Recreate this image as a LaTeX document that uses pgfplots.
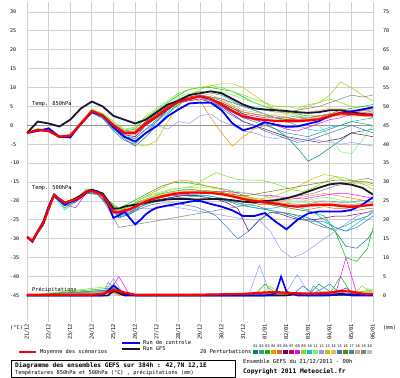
\documentclass[border=0pt]{standalone}
\usepackage{fontspec}
\setmainfont{DejaVu Sans Mono}
\usepackage{pgfplots}
\usepackage{pgfplotstable}
\pgfplotsset{compat=1.18}
\newcommand\fs[1]{\fontsize{#1}{#1}\selectfont}
\definecolor{c01}{RGB}{0,128,128}
\definecolor{c02}{RGB}{60,160,120}
\definecolor{c03}{RGB}{0,190,0}
\definecolor{c04}{RGB}{255,140,0}
\definecolor{c05}{RGB}{230,100,30}
\definecolor{c06}{RGB}{110,0,110}
\definecolor{c07}{RGB}{200,0,100}
\definecolor{c08}{RGB}{255,0,255}
\definecolor{c09}{RGB}{120,230,0}
\definecolor{c10}{RGB}{0,200,200}
\definecolor{c11}{RGB}{120,240,120}
\definecolor{c12}{RGB}{150,150,255}
\definecolor{c13}{RGB}{180,200,0}
\definecolor{c14}{RGB}{240,180,100}
\definecolor{c15}{RGB}{50,120,200}
\definecolor{c16}{RGB}{120,120,0}
\definecolor{c17}{RGB}{40,150,150}
\definecolor{c18}{RGB}{200,170,120}
\definecolor{c19}{RGB}{128,128,128}
\definecolor{c20}{RGB}{190,190,190}
\definecolor{gridc}{RGB}{208,208,208}
\definecolor{gfsc}{RGB}{30,20,40}

% 850 hPa temperatures, one row per series
\pgfplotstableread{
name 0 0.5 1 1.5 2 2.5 3 3.5 4 4.5 5 5.5 6 6.5 7 7.5 8 8.5 9 9.5 10 10.5 11 11.5 12 12.5 13 13.5 14 14.5 15 15.5 16
p01 -2 -1 -1.3 -3.2 -3 0.2 3.5 2 -1 -3.5 -5.5 -3 0 3 5.5 7 8 7 6 4.5 3 1.5 0.5 -1 -3 -6 -9.5 -8 -6 -4 -2 -1.5 -1
p02 -2 -1.4 -1.7 -2.8 -2.5 1 4 3 0.5 -1.5 -1.5 1 3 5 7 8 9 8.5 8 6.5 5 4 3 2 2 2.5 1.5 1.5 2 3 3.5 4 3.5
p03 -2 -1 -1.2 -3.3 -3 0.5 4 3 0.5 -1.5 -1 2 4 6 8 9.5 10 10 9.5 9 7.5 6 5 4 3.5 3 2.5 2.5 3 4 4.5 5 5.5
p04 -2 -1.3 -1.5 -3 -2.5 0.8 4.2 2.5 -0.5 -2.5 -2.5 0 2 4 6 7 6.5 2 -2 -5.5 -3 -1 0 1 1.5 1 1.5 2.5 3 2.5 3 2.5 2
p05 -2 -1.2 -1.6 -3.1 -2.8 0.3 3.6 2.4 -0.3 -2.2 -2 0.8 2.8 5 6.5 7.5 8 7.5 6.5 5 3.5 3 2.5 2.5 2 1.5 1.5 2 3 3.5 4 4 4
p06 -2 -1.3 -1.4 -3 -2.9 0.6 3.9 2.7 0 -2.5 -3 0 2 4 6 6.5 7 6 5 3 1 0 -1 -2 -3 -3.5 -4 -4.5 -4 -3.5 -2 -2.5 -3
p07 -2 -1.2 -1.5 -2.9 -2.6 0.5 3.7 2.5 0.2 -1.8 -1.5 1 3 5 6.5 7.5 8 7 6 4.5 3 2.5 2 2 1.5 1.5 2 2.5 3 3 3.5 3.5 3
p08 -2 -1.1 -1.6 -3.2 -2.8 0.4 3.8 2.8 0.3 -1.5 -1.8 0.5 2.5 4.5 6 7 7.5 6.5 5 3.5 2 1.5 1 0 -1 -1.5 -0.5 0.5 1.5 2 3 4 4.5
p09 -2 -0.9 -1.3 -3 -2.6 0.9 4.3 3.2 1 -1 -0.5 2.5 4.5 6.5 8.5 9.5 10 10.5 10 9 8 7 6 5 5 4.5 5.5 6 7 6 5 4.5 4
p10 -2 -1 -1.4 -3.1 -2.7 0.4 3.6 2.2 -1 -3 -3.5 -1 1 3.5 5.5 7 8 7.5 7 6 5 4 3 2 1 0 -1 -1.5 -0.5 0 1 1.5 2
p11 -2 -1.1 -1.4 -2.9 -2.7 0.6 4 3 0.6 -1.2 -0.8 2 4 6 7.5 8.5 9 9 9 8 7 6 5 4.5 4 3 2 0 -3 -7 -7.5 -4 0
p12 -2 -1.3 -1.6 -3.2 -3 0.2 3.4 2 -0.5 -2.5 -3.5 -1 0 -1 1 0.5 2.5 3 1 0 -1.5 -2 -3 -3.5 -3 -4 -3.5 -4 -4.5 -5 -4.5 -5 -5.5
p13 -2 -1.2 -1.5 -3 -2.6 0.7 4.1 2.8 -0.5 -3 -5 -5.5 -4 1 5 8 9.5 10.5 11 11 10 8 6 4 3 4 5 6 8 11.5 10 8 6.5
p14 -2 -1.1 -1.3 -2.8 -2.4 0.8 4.1 2.9 0.4 -1.6 -1.6 0.8 2.8 4.8 6.5 8 8.5 8 7 5.5 4 3.5 3 3 3 3 3.5 4 4.5 4.5 4 3.5 3.5
p15 -2 -1.2 -1.7 -3.3 -3 0.1 3.3 1.8 -1.5 -4 -5 -2 1 4 6 7 7.5 6 4.5 2.5 1 0 -1.5 -2.5 -3.5 -4.5 -4 -3 -2 -1 0 -1 -2
p16 -2 -1.4 -1.5 -3 -2.7 0.5 3.8 2.6 0 -2 -2 0.6 2.6 4.6 6.5 7.2 7.8 7 6 4.5 3.5 3 2.5 2 1.5 2 2 2.5 3 3 2.5 2.5 3
p17 -2 -1.2 -1.5 -3.1 -2.8 0.3 3.5 2.3 -0.8 -3 -3.5 -1 1.5 4 6 7 7.5 6.5 5 3.5 2 1 0 -1 -2 -2.5 -3 -2 -1 0 1 0.5 0
p18 -2 -1.1 -1.6 -3 -2.5 0.6 4 2.8 0.2 -1.8 -1.8 0.7 2.6 4.6 6.2 7.2 8 7.5 6.5 5 3.5 3 2.5 2 2.5 2.5 2 2.5 3 3.5 3.5 4 4
p19 -2 -1.3 -1.4 -2.9 -2.6 0.5 3.9 2.7 0.1 -1.9 -1.9 0.6 2.5 4.5 6.2 7 8 7.5 7 6 5 4.5 4 3.5 3.5 4 4.5 5 6 7 8 7.5 8
p20 -2 -1.2 -1.5 -3 -2.7 0.4 3.7 2.5 -0.2 -2.1 -2.1 0.4 2.3 4.4 6 6.8 7.5 7 5.5 4 2.5 2 1.5 1 1 1.5 2 2 2.5 3 3 3.5 3.5
mean -2 -1.2 -1.5 -3 -2.7 0.5 3.8 2.6 0 -2 -2 0.5 2.4 4.5 6.2 7 7.7 7 5.5 3.8 2.4 1.8 1.4 1.2 1.1 1.1 1.3 1.6 2.5 3.2 3 2.8 2.6
ctrl -2 -1.5 -0.8 -3 -3.2 0.5 3.5 2.5 -0.5 -3 -4.3 -2 -0.2 2.4 4.2 5.8 6 6 4 0.5 -1.3 -0.5 0.8 0.2 -0.4 -0.3 0.4 1.1 2.5 3.3 3.7 4.2 4.8
gfs -2 1 0.5 -0.3 1.5 4.5 6.3 5 2.5 1.5 0.5 1.5 3.5 5.5 6.5 8 8.5 9 8.5 7 5.5 4.5 4.2 4 3.8 3.5 3.3 3.5 4 4 3.5 3 2.8
}\rawA
\pgfplotstabletranspose[colnames from=name,input colnames to=x]\tA{\rawA}

% 500 hPa temperatures of the perturbations
\pgfplotstableread{
name 0 0.25 0.75 1.25 1.75 2.25 2.75 3.25 3.75 4.25 4.75 5.25 5.75 6.25 6.75 7.25 7.75 8.25 8.75 9.25 9.75 10.25 10.75 11.25 11.75 12.25 12.75 13.25 13.75 14.25 14.75 15.25 15.75 16
p01 -29.5 -30.8 -26.5 -18 -21 -20 -17.5 -18 -21 -24.5 -23.5 -21.5 -20 -19.5 -19 -18.5 -18.5 -18.5 -19 -20 -21 -21.5 -22 -22.5 -23 -23.5 -24 -25 -26.5 -28 -32 -32.5 -30 -28
p02 -29.5 -30.6 -26.2 -18.6 -20.2 -19.4 -17.4 -17.5 -20 -22.5 -21.5 -20 -19 -18 -17.5 -17 -17 -17.5 -17.8 -18.5 -19 -19.5 -20 -20.2 -20.5 -20.8 -21 -20.5 -20 -20.2 -20.5 -20 -19.8 -19.5
p03 -29.5 -31 -25.5 -18.2 -21.8 -20 -17.4 -17.2 -19.8 -22 -20.5 -19 -17.5 -16 -15.2 -15 -15.5 -16 -16.5 -17 -18 -19 -20 -21 -21.5 -22 -22.5 -23 -24 -28 -35 -36 -32.5 -27
p04 -29.5 -30.4 -25.8 -18.3 -20.3 -19.2 -17.2 -17.4 -20.2 -22.8 -21.5 -19.5 -18 -16.5 -15 -14.5 -15 -16 -16.5 -17.5 -18.5 -19 -19.5 -20 -20 -19.5 -19 -18.5 -18 -18.5 -19 -19.5 -20 -20.5
p05 -29.5 -30.6 -26 -18.8 -20.8 -19.8 -17.8 -17.9 -20.3 -23.2 -22.4 -20.5 -19.5 -18.5 -17.8 -17.5 -17.3 -17.5 -18 -18.5 -19 -20 -21 -21 -21.5 -22 -22.5 -22 -21.5 -22 -22 -22.5 -22 -22
p06 -29.5 -30.7 -26.2 -18.7 -20.6 -19.7 -17.7 -18 -20.8 -23.5 -23 -21 -20 -19.5 -19 -18.5 -18.5 -19 -19.5 -20.5 -22 -28 -25 -23 -23.5 -24.5 -25 -25 -24.5 -24 -24 -23.5 -23 -22.5
p07 -29.5 -30.5 -26 -18.5 -20.5 -19.6 -17.6 -17.8 -20.5 -23 -22 -20.3 -19.5 -18.7 -18.2 -18 -17.7 -17.7 -18 -18.5 -19.2 -19.8 -20.5 -20.8 -21 -21.3 -21.5 -21.2 -20.8 -21 -21.3 -21.2 -21 -20.8
p08 -29.5 -30.6 -26.3 -18.6 -21 -21.8 -17.8 -17.6 -20.7 -23.3 -22.6 -20.5 -19.5 -19 -18.5 -18.5 -18 -17.8 -17.5 -17.5 -17.8 -18 -18.5 -18.5 -19 -19.2 -19.5 -19 -18.5 -18 -18 -18.5 -19 -19.5
p09 -29.5 -30.5 -25.8 -18.3 -20.4 -19.5 -17.5 -17.6 -20 -22.5 -21.5 -19.5 -18.5 -17.8 -17 -16.5 -16 -14 -12.5 -13.5 -14.3 -14.5 -14.5 -15 -16 -17 -17.5 -16.5 -15 -13.5 -14 -15 -16 -17
p10 -29.5 -30.8 -26.5 -18.8 -22.3 -20.3 -17.8 -18.2 -21 -24 -23 -21 -20 -19 -18.5 -18.3 -18.3 -18.5 -19 -19.5 -20.5 -21.5 -22 -22 -21.5 -21.5 -22 -23 -25 -27 -28 -26 -24 -22.5
p11 -29.5 -30.4 -25.8 -18.2 -20.3 -19.3 -17.3 -17.5 -19.8 -22.3 -21.3 -19.5 -18.3 -17.5 -16.8 -16.5 -16.5 -16.5 -16.8 -17 -17.5 -18 -18.5 -19 -19.5 -20 -20 -19.5 -19 -19.5 -20 -20.5 -21 -21
p12 -29.5 -30.6 -26.2 -18.7 -20.6 -19.7 -17.7 -17.9 -20.8 -23.5 -23 -22 -22 -21.5 -21.5 -22 -22.5 -23 -23.5 -24 -24.5 -25 -25 -28 -33 -35 -34 -32 -30 -28 -26 -24 -23 -22.5
p13 -29.5 -30.5 -26 -18.4 -20.4 -19.5 -17.5 -17.8 -20.6 -23 -22 -20 -19 -18.2 -17.5 -17.2 -17 -17.2 -17.5 -18 -18.5 -19 -19.5 -19 -18 -17 -15.5 -14 -13 -13.5 -15 -15.5 -15.5 -16
p14 -29.5 -30.6 -26 -18.5 -20.5 -19.6 -17.6 -17.9 -20.4 -23 -22 -20.2 -19.3 -18.6 -18 -17.8 -17.6 -17.6 -17.8 -18.2 -18.7 -19.3 -19.8 -20 -20.2 -20.5 -20.5 -20 -20 -20.5 -21 -21 -20.5 -20.5
p15 -29.5 -30.7 -26.4 -18.9 -21.3 -20.3 -18 -18.3 -21.2 -24.2 -23.5 -22 -21 -20.5 -20.5 -21 -21.5 -22.5 -24 -27 -30 -28 -25 -23 -23 -24 -25 -25.5 -25.5 -27 -28 -27 -25 -24
p16 -29.5 -30.5 -26.1 -18.5 -20.5 -19.6 -17.5 -17.7 -20.4 -22.9 -22.1 -20.2 -19.4 -18.7 -18.1 -17.8 -17.5 -17.3 -17.5 -18 -18.5 -18.5 -18 -17.5 -17 -16.5 -16 -15.5 -15 -14.5 -14.5 -14.8 -15 -15.5
p17 -29.5 -30.7 -26.3 -18.8 -20.9 -20 -17.9 -18.1 -21 -23.8 -23.2 -21.5 -20.5 -19.8 -19.3 -19 -18.8 -19 -19.5 -20 -20.5 -21 -21.5 -22.5 -23 -23.5 -24.5 -26 -27 -27.5 -26.5 -25 -24 -23
p18 -29.5 -30.5 -26 -18.5 -20.4 -19.5 -17.5 -17.7 -20.3 -22.8 -22 -20.2 -19.3 -18.5 -18 -17.7 -17.5 -17.5 -17.8 -18.2 -18.8 -19.4 -20 -20.3 -20.6 -20.8 -21 -20.7 -20.5 -20.8 -21 -20.8 -20.5 -20.3
p19 -29.5 -30.6 -26.2 -18.3 -20.6 -19.7 -16.8 -17.6 -22 -27 -26.5 -26 -25.5 -25 -24.5 -24 -23.5 -23 -22.5 -22 -21.5 -21 -20.5 -20 -19.5 -19 -18.5 -18 -17 -16 -15.5 -14.5 -14 -14.5
p20 -29.5 -30.5 -26.1 -18.6 -20.5 -19.6 -17.6 -17.8 -20.5 -23 -22.2 -20.4 -19.6 -18.9 -18.3 -18.1 -17.9 -17.9 -18.1 -18.5 -19.2 -19.8 -20.4 -20.6 -21 -21.4 -21.7 -21.5 -21.2 -21.4 -21.7 -21.6 -21.3 -21.1
}\rawB
\pgfplotstabletranspose[colnames from=name,input colnames to=x]\tB{\rawB}

\begin{document}
\begin{tikzpicture}
\path[use as bounding box] (0pt,0pt) rectangle (400pt,-378pt);
\begin{axis}[
  at={(27pt,-322.3pt)}, anchor=south west,
  scale only axis, width=346pt, height=319.8pt,
  xmin=0, xmax=16, ymin=-52.1, ymax=32.5,
  enlargelimits=false,
  xtick={0,...,16},
  xticklabels={21/12,22/12,23/12,24/12,25/12,26/12,27/12,28/12,29/12,30/12,31/12,01/01,02/01,03/01,04/01,05/01,06/01},
  ytick={-45,-40,...,30},
  grid=major,
  major grid style={draw=gridc, line width=0.8pt},
  axis line style={draw=none}, tick style={draw=none},
  /pgf/number format/assume math mode=true,
  yticklabel style={font=\fs{5}, anchor=west, xshift=-17pt, inner sep=0pt},
  xticklabel style={font=\fs{5.3}, rotate=90, anchor=east, inner sep=0pt},
  xticklabel shift=1.5pt,
  no markers,
]
\draw[color={rgb,255:red,150;green,150;blue,150}, line width=1.3pt] (axis cs:0,0) -- (axis cs:16,0);
\pgfplotsinvokeforeach{01,02,03,04,05,06,07,08,09,10,11,12,13,14,15,16,17,18,19,20}{
  \addplot[color=c#1, line width=0.5pt] table[x=x, y=p#1] {\tA};
  \addplot[color=c#1, line width=0.5pt] table[x=x, y=p#1] {\tB};
}
% 850
\addplot[color=gfsc, line width=1.8pt] table[x=x, y=gfs] {\tA};
\addplot[color=blue, line width=1.8pt] table[x=x, y=ctrl] {\tA};
\addplot[color=red, line width=2.2pt] table[x=x, y=mean] {\tA};
% 500 GFS
\addplot[color=gfsc, line width=1.8pt] coordinates {
(0,-29.5)(0.25,-30.8)(0.5,-28)(0.75,-25.5)(1,-21.5)(1.25,-18.3)(1.5,-19.5)(1.75,-20.5)(2,-20)(2.25,-19.3)(2.5,-18.5)(2.75,-17.5)(3,-17)(3.25,-17.5)(3.5,-18)(3.75,-20)(4,-22)(4.25,-22)(4.5,-21.5)(4.75,-21.2)(5,-21)(5.25,-20.8)(5.5,-20.5)(5.75,-20.2)(6,-20)(6.25,-19.8)(6.5,-19.6)(6.75,-19.5)(7,-19.5)(7.25,-19.5)(7.5,-19.5)(7.75,-19.6)(8,-19.6)(8.5,-19.5)(9,-19.5)(9.5,-19.8)(10,-20.2)(10.5,-20.4)(11,-20)(11.5,-19.8)(12,-19.3)(12.5,-18.5)(13,-17.5)(13.5,-16.5)(14,-15.6)(14.5,-15.3)(15,-15.7)(15.5,-16.5)(16,-18.3)};
% 500 control
\addplot[color=blue, line width=1.8pt] coordinates {
(0,-29.5)(0.25,-30.7)(0.5,-28)(0.75,-26)(1,-21.5)(1.25,-18.5)(1.5,-19.8)(1.75,-21)(2,-20.2)(2.25,-19.8)(2.5,-19)(2.75,-17.8)(3,-17.3)(3.25,-17.5)(3.5,-18.5)(3.75,-21)(4,-24.5)(4.25,-23.8)(4.5,-22.8)(4.75,-24.5)(5,-26.2)(5.25,-25)(5.5,-23.5)(5.75,-22.5)(6,-21.8)(6.25,-21.5)(6.5,-21.2)(6.75,-21)(7,-20.7)(7.25,-20.5)(7.5,-20.2)(7.75,-20)(8,-20)(8.5,-20.8)(9,-21.5)(9.5,-22.5)(10,-24)(10.5,-24)(11,-23.2)(11.5,-25.5)(12,-27.5)(12.5,-25)(13,-23.3)(13.5,-22.8)(14,-22.8)(14.5,-22.8)(15,-22.4)(15.5,-21)(16,-19)};
% 500 mean
\addplot[color=red, line width=2.2pt] coordinates {
(0,-29.5)(0.25,-30.5)(0.5,-28)(0.75,-26)(1,-22)(1.25,-18.5)(1.5,-19.5)(1.75,-20.5)(2,-20)(2.25,-19.6)(2.5,-18.8)(2.75,-17.6)(3,-17.4)(3.25,-17.8)(3.5,-18.5)(3.75,-20.5)(4,-23)(4.25,-23)(4.5,-22.5)(4.75,-22.2)(5,-21.5)(5.25,-20.8)(5.5,-20.2)(5.75,-19.6)(6,-19.2)(6.25,-18.8)(6.5,-18.5)(6.75,-18.2)(7,-18)(7.25,-17.9)(7.5,-17.8)(7.75,-17.8)(8,-17.8)(8.5,-17.9)(9,-18.2)(9.5,-18.8)(10,-19.5)(10.5,-20)(11,-20.3)(11.5,-20.7)(12,-21.2)(12.5,-21.5)(13,-21.2)(13.5,-21)(14,-21)(14.5,-21.3)(15,-21.6)(15.5,-21.3)(16,-21)};
\end{axis}
% precipitation on the right-hand axis (mm)
\begin{axis}[
  at={(27pt,-322.3pt)}, anchor=south west,
  scale only axis, width=346pt, height=319.8pt,
  xmin=0, xmax=16, ymin=-7.1, ymax=77.5,
  enlargelimits=false,
  hide x axis,
  axis y line*=right,
  ytick={0,5,...,75},
  axis line style={draw=none}, tick style={draw=none},
  /pgf/number format/assume math mode=true,
  yticklabel style={font=\fs{5}, anchor=west, xshift=10pt, inner sep=0pt},
  no markers,
]
\addplot[c01, line width=0.5pt] coordinates {(0,0)(3.5,0.3)(4,2)(4.5,0)(13,0)(13.5,3)(14,1)(14.5,0)(16,0)};
\addplot[c02, line width=0.5pt] coordinates {(0,0)(3.5,0)(4,3)(4.5,0.5)(5,0)(11,0.5)(12,0)(16,0.5)};
\addplot[c03, line width=0.5pt] coordinates {(0,0)(4,2)(4.5,0)(10.5,0)(11,3)(11.5,0.5)(14,0.5)(14.5,5)(15,0.5)(16,1.5)};
\addplot[c04, line width=0.5pt] coordinates {(0,0)(3.75,1)(4.25,0)(14,0)(14.25,1.5)(14.75,0)(16,0)};
\addplot[c05, line width=0.5pt] coordinates {(0,0)(4,1)(4.5,0)(12,0.5)(12.5,0)(16,0)};
\addplot[c06, line width=0.5pt] coordinates {(0,0)(4,1.5)(4.5,0)(9,0)(9.5,0.5)(10,0)(15,0.5)(16,0)};
\addplot[c07, line width=0.5pt] coordinates {(0,0)(4,1)(4.5,0)(14,0)(14.75,2)(15.25,0)(16,0)};
\addplot[c08, line width=0.5pt] coordinates {(0,0)(3.75,0.5)(4.25,5)(4.75,0)(14.25,0)(14.75,10)(15.25,0.5)(16,0)};
\addplot[c09, line width=0.5pt] coordinates {(0,0)(4,2.5)(4.5,0)(10.75,0)(11.25,2.5)(11.75,0)(13,0.5)(14,1)(16,1)};
\addplot[c10, line width=0.5pt] coordinates {(0,0)(3.5,0.5)(4,1)(4.5,0)(13,0.5)(13.5,0)(16,0)};
\addplot[c11, line width=0.5pt] coordinates {(0,0)(4,1.5)(4.5,0)(15.5,0)(15.75,2)(16,1)};
\addplot[c12, line width=0.5pt] coordinates {(0,0)(3.5,0)(4,4.5)(4.5,0)(10.25,0)(10.75,8)(11.25,0.5)(12,1)(12.5,5.5)(13,1)(13.5,0)(16,0)};
\addplot[c13, line width=0.5pt] coordinates {(0,0)(4,1)(4.5,0)(15,0)(15.5,2.5)(16,0.5)};
\addplot[c14, line width=0.5pt] coordinates {(0,0)(4,0.5)(4.5,0)(14,0.5)(14.5,1)(15,0)(16,0)};
\addplot[c15, line width=0.5pt] coordinates {(0,0)(4,1.5)(4.5,0)(12.25,0)(12.75,2.5)(13.25,0.5)(14,3)(14.5,0.5)(16,0)};
\addplot[c16, line width=0.5pt] coordinates {(0,0)(4,0.8)(4.5,0)(16,0.2)};
\addplot[c17, line width=0.5pt] coordinates {(0,0)(4,1.2)(4.5,0)(13,0)(13.25,2.5)(13.75,0.3)(16,0)};
\addplot[c18, line width=0.5pt] coordinates {(0,0)(4,0.7)(4.5,0)(16,0.3)};
\addplot[c19, line width=0.5pt] coordinates {(0,0)(3.5,0)(3.75,3.5)(4.25,0.5)(4.75,0)(14.5,1)(15,0)(16,0)};
\addplot[c20, line width=0.5pt] coordinates {(0,0)(4,1)(4.5,0)(16,0.2)};
\addplot[gfsc, line width=1.6pt] coordinates {(0,0)(3.75,0)(4,1.2)(4.5,0)(12,0)(12.5,0.5)(13,0)(16,0.3)};
\addplot[blue, line width=1.6pt] coordinates {(0,0)(3.5,0)(4,2.6)(4.5,0.3)(5,0)(11,0)(11.5,0.5)(11.75,5)(12,1)(12.5,0)(14,0)(14.5,0.5)(15,0)(16,0)};
\addplot[red, line width=2.2pt] coordinates {(0,0.2)(3,0.2)(3.5,0.4)(4,1.5)(4.5,0.8)(5,0.2)(8,0.2)(9,0.3)(10,0.4)(11,0.8)(11.5,0.9)(12,0.7)(13,0.4)(14,0.7)(14.5,1.2)(15,1.0)(15.5,0.5)(16,0.4)};
\end{axis}
% labels inside the plot
\node[anchor=west, inner sep=0pt, font=\fs{5.3}] at (32pt,-104pt) {Temp. 850hPa};
\node[anchor=west, inner sep=0pt, font=\fs{5.3}] at (32pt,-188pt) {Temp. 500hPa};
\node[anchor=west, inner sep=0pt, font=\fs{5.3}] at (32pt,-290pt) {Précipitations};
\node[anchor=west, inner sep=0pt, font=\fs{5.3}] at (10pt,-327.5pt) {(°C)};
\node[anchor=west, inner sep=0pt, font=\fs{5.3}] at (383pt,-327.5pt) {(mm)};
% legend
\draw[red, line width=2pt] (19pt,-352pt) -- (36pt,-352pt);
\node[anchor=west, inner sep=0pt, font=\fs{5.3}] at (40pt,-352pt) {Moyenne des scénarios};
\draw[blue, line width=2pt] (122pt,-343pt) -- (140pt,-343pt);
\node[anchor=west, inner sep=0pt, font=\fs{5.3}] at (143pt,-343pt) {Run de controle};
\draw[gfsc, line width=2pt] (122pt,-349pt) -- (140pt,-349pt);
\node[anchor=west, inner sep=0pt, font=\fs{5.3}] at (143pt,-349pt) {Run GFS};
\node[anchor=west, inner sep=0pt, font=\fs{5.3}] at (200pt,-352pt) {20 Perturbations};
\foreach \c [count=\i] in {c01,c02,c03,c04,c05,c06,c07,c08,c09,c10,c11,c12,c13,c14,c15,c16,c17,c18,c19,c20} {
  \fill[\c] ({253pt+6pt*(\i-1)},-350pt) rectangle ++(5pt,-4pt);
  \node[inner sep=0pt, font=\fs{3.6}] at ({255.5pt+6pt*(\i-1)},-346.5pt) {\ifnum\i<10 0\fi\i};
}
% title box
\draw[black, line width=0.8pt] (11pt,-360pt) rectangle (235pt,-377.6pt);
\node[anchor=west, inner sep=0pt, font=\fs{6.2}\bfseries] at (15pt,-365.5pt) {Diagramme des ensembles GEFS sur 384h : 42,7N 12,1E};
\node[anchor=west, inner sep=0pt, font=\fs{5.3}] at (15pt,-373pt) {Températures 850hPa et 500hPa (°C) , précipitations (mm)};
\node[anchor=west, inner sep=0pt, font=\fs{5.5}] at (243pt,-361.5pt) {Ensemble GEFS du 21/12/2011 - 00h};
\node[anchor=west, inner sep=0pt, font=\fs{6.3}\bfseries] at (243pt,-371.5pt) {Copyright 2011 Meteociel.fr};
\end{tikzpicture}
\end{document}
